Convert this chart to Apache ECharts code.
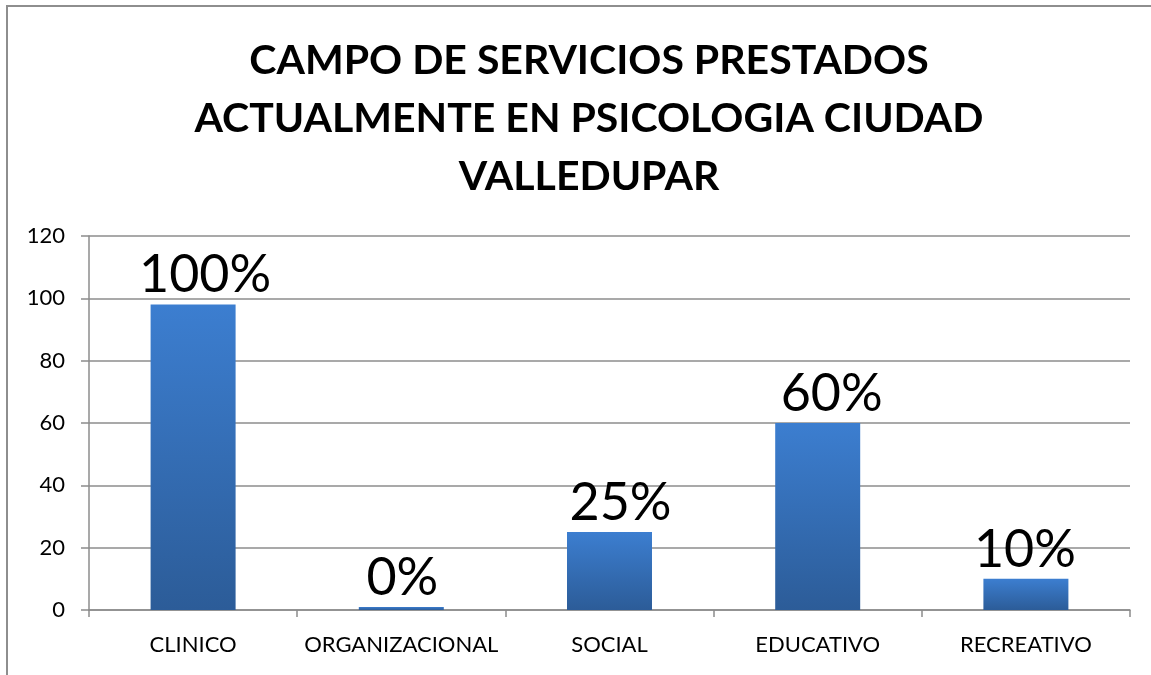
<!DOCTYPE html>
<html>
<head>
<meta charset="utf-8">
<script src="https://cdn.jsdelivr.net/npm/echarts@6/dist/echarts.min.js"></script>
<style>
  html, body { margin: 0; padding: 0; background: #fff; }
  .frame {
    position: absolute; left: 6px; top: 5px; width: 1145px; height: 670px;
    border-left: 2px solid #8e8e8e; border-top: 2px solid #8e8e8e;
    box-sizing: border-box;
  }
  .chart { position: absolute; left: 0; top: 0; width: 1151px; height: 675px; }
</style>
</head>
<body>
<div class="frame"></div>
<div class="chart" id="chart"></div>
<script>
// datos
const categorias = ["CLINICO", "ORGANIZACIONAL", "SOCIAL", "EDUCATIVO", "RECREATIVO"];
const valores = [98, 1, 25, 60, 10];
const etiquetas = ["100%", "0%", "25%", "60%", "10%"];
const tituloLineas = [
  "CAMPO DE SERVICIOS PRESTADOS",
  "ACTUALMENTE EN PSICOLOGIA CIUDAD",
  "VALLEDUPAR",
];

const myChart = echarts.init(document.getElementById("chart"));
const fuente = "Lato";
// corrimiento horizontal de cada etiqueta (en el original no todas van centradas)
const corrimientoEtiqueta = [12, 1, 11, 14, -1];

const option = {
  backgroundColor: "transparent",
  animation: false,
  title: {
    text: tituloLineas.join("\n"),
    left: 584,
    top: 27,
    textAlign: "center",
    textStyle: {
      fontFamily: fuente,
      fontWeight: "bold",
      fontSize: 41,
      lineHeight: 58,
      color: "#000",
    },
  },
  grid: { left: 89, right: 21, top: 236, bottom: 65 },
  xAxis: {
    type: "category",
    data: categorias,
    axisLine: { lineStyle: { color: "#8c8c8c", width: 1.5 } },
    axisTick: { show: true, length: 7, lineStyle: { color: "#8c8c8c", width: 1.5 } },
    axisLabel: { fontFamily: fuente, fontSize: 22, color: "#000", margin: 24, interval: 0 },
  },
  yAxis: {
    type: "value",
    min: 0,
    max: 120,
    interval: 20,
    axisLine: { show: true, lineStyle: { color: "#8c8c8c", width: 1.5 } },
    axisTick: { show: true, length: 8, lineStyle: { color: "#8c8c8c", width: 1.5 } },
    splitLine: { lineStyle: { color: "#8c8c8c", width: 1.5 } },
    axisLabel: { fontFamily: fuente, fontSize: 22, color: "#000", margin: 24 },
  },
  series: [
    {
      type: "bar",
      data: valores.map((v, i) => ({
        value: v,
        label: { offset: [corrimientoEtiqueta[i], 0] },
      })),
      barWidth: 85,
      itemStyle: {
        color: new echarts.graphic.LinearGradient(0, 0, 0, 1, [
          { offset: 0, color: "#3c7ed0" },
          { offset: 1, color: "#2c5c98" },
        ]),
      },
      label: {
        show: true,
        position: "top",
        distance: 3,
        fontFamily: fuente,
        fontSize: 52,
        color: "#000",
        formatter: (p) => etiquetas[p.dataIndex],
      },
    },
  ],
};
myChart.setOption(option);
</script>
</body>
</html>
